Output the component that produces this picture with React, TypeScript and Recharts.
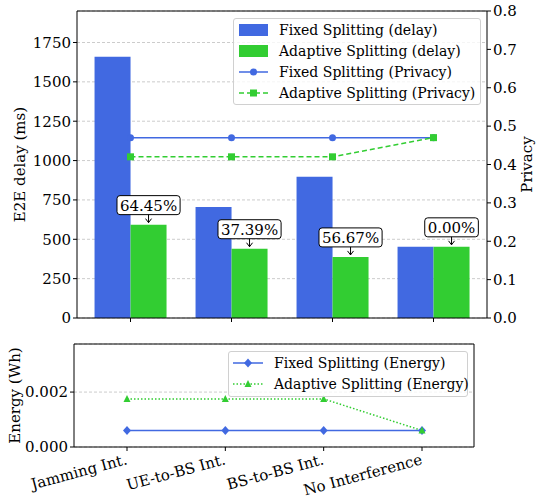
import { ComposedChart, LineChart, Bar, Line, XAxis, YAxis, CartesianGrid, LabelList, Legend, ReferenceLine } from 'recharts';

const categories = ['Jamming Int.', 'UE-to-BS Int.', 'BS-to-BS Int.', 'No Interference'];
const fixedDelay = [1660, 705, 897, 452];
const adaptiveDelay = [593, 440, 388, 452];
const reductionLabels = ['64.45%', '37.39%', '56.67%', '0.00%'];
const fixedPrivacy = [0.47, 0.47, 0.47, 0.47];
const adaptivePrivacy = [0.42, 0.42, 0.42, 0.47];
const fixedEnergy = [0.0006, 0.0006, 0.0006, 0.0006];
const adaptiveEnergy = [0.00175, 0.00175, 0.00175, 0.0006];

const delayTicks = [0, 250, 500, 750, 1000, 1250, 1500, 1750];
const privacyTicks = [0, 0.1, 0.2, 0.3, 0.4, 0.5, 0.6, 0.7, 0.8];
const energyTicks = [0, 0.002];

const BLUE = '#4169e1';
const GREEN = '#32cd32';
const FONT = '"DejaVu Serif", serif';

const topData = categories.map((name, i) => ({
  name,
  fixed: fixedDelay[i],
  adaptive: adaptiveDelay[i],
  pct: reductionLabels[i],
  fixedP: fixedPrivacy[i],
  adaptiveP: adaptivePrivacy[i],
}));

const bottomData = categories.map((name, i) => ({
  name,
  fixedE: fixedEnergy[i],
  adaptiveE: adaptiveEnergy[i],
}));

// rough DejaVu Serif widths at 15px
function textWidth(s: string) {
  let w = 0;
  for (const ch of s) {
    if (ch === '.') w += 4.8;
    else if (ch === '%') w += 14.3;
    else w += 9.5;
  }
  return w;
}

function PctLabel(props: any) {
  const { x, y, width, value } = props;
  const cx = x + width / 2;
  const w = textWidth(String(value)) + 6;
  const bottom = y - 10;
  return (
    <g>
      <rect x={cx - w / 2} y={bottom - 19} width={w} height={19} rx={3} fill="#fff" stroke="#000" strokeWidth={1} />
      <text x={cx} y={bottom - 4} textAnchor="middle" fontFamily={FONT} fontSize={15} fill="#000">{value}</text>
      <line x1={cx} y1={bottom} x2={cx} y2={y - 2} stroke="#000" strokeWidth={1} />
      <polyline points={`${cx - 3},${y - 6} ${cx},${y - 2} ${cx + 3},${y - 6}`} fill="none" stroke="#000" strokeWidth={1} />
    </g>
  );
}

const Circle = (props: any) => {
  const { cx, cy } = props;
  return <circle cx={cx} cy={cy} r={3.5} fill={BLUE} />;
};
const Square = (props: any) => {
  const { cx, cy } = props;
  return <rect x={cx - 3.5} y={cy - 3.5} width={7} height={7} fill={GREEN} />;
};
const Diamond = (props: any) => {
  const { cx, cy } = props;
  return <polygon points={`${cx},${cy - 4.5} ${cx + 4},${cy} ${cx},${cy + 4.5} ${cx - 4},${cy}`} fill={BLUE} />;
};
const Triangle = (props: any) => {
  const { cx, cy } = props;
  return <polygon points={`${cx},${cy - 4} ${cx + 3.5},${cy + 3} ${cx - 3.5},${cy + 3}`} fill={GREEN} />;
};

const legendBox = {
  background: 'rgba(255,255,255,0.8)',
  border: '1px solid #d0d0d0',
  borderRadius: 3,
  fontFamily: FONT,
  fontSize: 14,
  color: '#000',
  boxSizing: 'border-box' as const,
};

function TopLegend() {
  const rows = [
    { label: 'Fixed Splitting (delay)', kind: 'barBlue' },
    { label: 'Adaptive Splitting (delay)', kind: 'barGreen' },
    { label: 'Fixed Splitting (Privacy)', kind: 'lineBlue' },
    { label: 'Adaptive Splitting (Privacy)', kind: 'lineGreen' },
  ];
  return (
    <div style={{ ...legendBox, width: 248, height: 87, position: 'relative' }}>
      {rows.map((r, i) => (
        <div key={i} style={{ position: 'absolute', left: 0, top: 11 + i * 21 - 10, height: 20, display: 'flex', alignItems: 'center' }}>
          <svg width={45} height={20} style={{ display: 'block' }}>
            {r.kind === 'barBlue' && <rect x={5} y={4} width={29} height={12} fill={BLUE} />}
            {r.kind === 'barGreen' && <rect x={5} y={4} width={29} height={12} fill={GREEN} />}
            {r.kind === 'lineBlue' && (
              <g>
                <line x1={5} y1={10} x2={34} y2={10} stroke={BLUE} strokeWidth={1.5} />
                <circle cx={19.5} cy={10} r={3.5} fill={BLUE} />
              </g>
            )}
            {r.kind === 'lineGreen' && (
              <g>
                <line x1={5} y1={10} x2={34} y2={10} stroke={GREEN} strokeWidth={1.5} strokeDasharray="5 3" />
                <rect x={16} y={6.5} width={7} height={7} fill={GREEN} />
              </g>
            )}
          </svg>
          <span style={{ whiteSpace: 'nowrap' }}>{r.label}</span>
        </div>
      ))}
    </div>
  );
}

function BottomLegend() {
  return (
    <div style={{ ...legendBox, width: 240, height: 46, position: 'relative' }}>
      <div style={{ position: 'absolute', left: 0, top: 1, height: 20, display: 'flex', alignItems: 'center' }}>
        <svg width={45} height={20} style={{ display: 'block' }}>
          <line x1={4} y1={10} x2={34} y2={10} stroke={BLUE} strokeWidth={1.5} />
          <polygon points="19,5.5 23,10 19,14.5 15,10" fill={BLUE} />
        </svg>
        <span style={{ whiteSpace: 'nowrap' }}>Fixed Splitting (Energy)</span>
      </div>
      <div style={{ position: 'absolute', left: 0, top: 22, height: 20, display: 'flex', alignItems: 'center' }}>
        <svg width={45} height={20} style={{ display: 'block' }}>
          <line x1={4} y1={10} x2={34} y2={10} stroke={GREEN} strokeWidth={1.5} strokeDasharray="1.5 2" />
          <polygon points="19,6 22.5,13 15.5,13" fill={GREEN} />
        </svg>
        <span style={{ whiteSpace: 'nowrap' }}>Adaptive Splitting (Energy)</span>
      </div>
    </div>
  );
}

const RotatedTick = (props: any) => {
  const { x, y, payload } = props;
  return (
    <g transform={`translate(${x + 1},${y + 11})`}>
      <text transform="rotate(-15)" textAnchor="end" fontFamily={FONT} fontSize={15} fill="#000">
        {payload.value}
      </text>
    </g>
  );
};

const tickStyle = { fontFamily: FONT, fontSize: 15, fill: '#000' };

export default function App() {
  return (
    <div style={{ position: 'absolute', left: 0, top: 0, width: 537, height: 498, background: '#fff', fontFamily: FONT }}>
      <div style={{ position: 'absolute', left: 0, top: 0 }}>
        <ComposedChart
          width={537}
          height={330}
          data={topData}
          margin={{ top: 11, right: 0, left: 0, bottom: 0 }}
          barCategoryGap="14.4%"
          barGap={0}
        >
          <CartesianGrid yAxisId="left" vertical={false} stroke="#cccccc" strokeDasharray="3 2" />
          <XAxis
            dataKey="name"
            height={12}
            padding={{ left: 3, right: 3 }}
            tickFormatter={() => ''}
            tickSize={4}
            axisLine={{ stroke: '#000' }}
            tickLine={{ stroke: '#000' }}
          />
          <YAxis
            yAxisId="left"
            width={77}
            domain={[0, 1950]}
            ticks={delayTicks}
            tick={tickStyle}
            tickSize={4}
            axisLine={{ stroke: '#000' }}
            tickLine={{ stroke: '#000' }}
            label={{
              content: (p: any) => {
                const vb = p.viewBox || {};
                const cy = (vb.y || 0) + (vb.height || 0) / 2;
                return (
                  <text x={20} y={cy} transform={`rotate(-90, 20, ${cy})`} textAnchor="middle" dominantBaseline="central" fontFamily={FONT} fontSize={15} fill="#000">
                    E2E delay (ms)
                  </text>
                );
              },
            }}
          />
          <YAxis
            yAxisId="right"
            orientation="right"
            width={50}
            domain={[0, 0.8]}
            ticks={privacyTicks}
            tickFormatter={(v: number) => v.toFixed(1)}
            tick={tickStyle}
            tickSize={4}
            axisLine={{ stroke: '#000' }}
            tickLine={{ stroke: '#000' }}
            label={{
              content: (p: any) => {
                const vb = p.viewBox || {};
                const cy = (vb.y || 0) + (vb.height || 0) / 2;
                return (
                  <text x={527} y={cy} transform={`rotate(-90, 527, ${cy})`} textAnchor="middle" dominantBaseline="central" fontFamily={FONT} fontSize={15} fill="#000">
                    Privacy
                  </text>
                );
              },
            }}
          />
          <ReferenceLine yAxisId="left" y={1950} stroke="#000" strokeWidth={1} />
          <Bar yAxisId="left" dataKey="fixed" fill={BLUE} isAnimationActive={false} />
          <Bar yAxisId="left" dataKey="adaptive" fill={GREEN} isAnimationActive={false}>
            <LabelList dataKey="pct" content={PctLabel} />
          </Bar>
          <Line yAxisId="right" dataKey="fixedP" stroke={BLUE} strokeWidth={1.5} dot={Circle} activeDot={false} isAnimationActive={false} />
          <Line yAxisId="right" dataKey="adaptiveP" stroke={GREEN} strokeWidth={1.5} strokeDasharray="5 3" dot={Square} activeDot={false} isAnimationActive={false} />
          <Legend
            layout="horizontal"
            verticalAlign="middle"
            align="center"
            wrapperStyle={{ position: 'absolute', left: 233, top: 18, width: 248, height: 87 }}
            content={() => <TopLegend />}
          />
        </ComposedChart>
      </div>

      <div style={{ position: 'absolute', left: 0, top: 330 }}>
        <LineChart
          width={537}
          height={168}
          data={bottomData}
          margin={{ top: 14, right: 62, left: 0, bottom: 0 }}
        >
          <CartesianGrid vertical={false} stroke="#cccccc" strokeDasharray="3 2" />
          <XAxis
            dataKey="name"
            height={51}
            padding={{ left: 53, right: 52 }}
            interval={0}
            tick={RotatedTick}
            tickSize={4}
            axisLine={{ stroke: '#000' }}
            tickLine={{ stroke: '#000' }}
          />
          <YAxis
            width={74}
            domain={[0, 0.00375]}
            ticks={energyTicks}
            tickFormatter={(v: number) => v.toFixed(3)}
            tick={tickStyle}
            tickSize={4}
            axisLine={{ stroke: '#000' }}
            tickLine={{ stroke: '#000' }}
            label={{
              content: (p: any) => {
                const vb = p.viewBox || {};
                const cy = (vb.y || 0) + (vb.height || 0) / 2;
                return (
                  <text x={15} y={cy} transform={`rotate(-90, 15, ${cy})`} textAnchor="middle" dominantBaseline="central" fontFamily={FONT} fontSize={15} fill="#000">
                    Energy (Wh)
                  </text>
                );
              },
            }}
          />
          <YAxis yAxisId="frame" orientation="right" width={1} tick={false} axisLine={{ stroke: '#000' }} tickLine={false} />
          <ReferenceLine y={0.00375} stroke="#000" strokeWidth={1} />
          <Line dataKey="fixedE" stroke={BLUE} strokeWidth={1.5} dot={Diamond} activeDot={false} isAnimationActive={false} />
          <Line dataKey="adaptiveE" stroke={GREEN} strokeWidth={1.5} strokeDasharray="1.5 2" dot={Triangle} activeDot={false} isAnimationActive={false} />
          <Legend
            layout="horizontal"
            verticalAlign="middle"
            align="center"
            wrapperStyle={{ position: 'absolute', left: 228, top: 21, width: 240, height: 46 }}
            content={() => <BottomLegend />}
          />
        </LineChart>
      </div>
    </div>
  );
}
